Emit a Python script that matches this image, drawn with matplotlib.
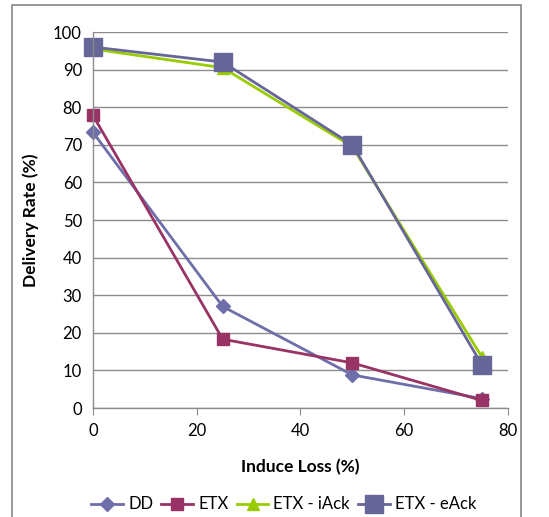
import matplotlib.pyplot as plt
from matplotlib.patches import Rectangle

plt.rcParams['font.family'] = ['Lato', 'DejaVu Sans']

loss = [0, 25, 50, 75]
dd = [73.3, 27.0, 8.8, 2.5]
etx = [77.8, 18.3, 12.0, 2.0]
etx_iack = [95.5, 90.5, 69.5, 13.5]
etx_eack = [96.0, 92.0, 70.0, 11.4]

fig = plt.figure(figsize=(5.49, 5.17), dpi=100)
ax = fig.add_axes([0.1694, 0.2108, 0.7559, 0.7273])

# рамка вокруг диаграммы
fig.patches.append(Rectangle((12 / 549, -0.01), 509 / 549, 1 - 5 / 517 + 0.01,
                             transform=fig.transFigure, fill=False,
                             edgecolor='#888888', linewidth=1.2))

ax.plot(loss, dd, color='#6E6EAA', marker='D', markersize=7, linewidth=2,
        clip_on=False, label='DD')
ax.plot(loss, etx, color='#993366', marker='s', markersize=8, linewidth=2,
        clip_on=False, label='ETX')
ax.plot(loss, etx_iack, color='#99CC00', marker='^', markersize=9, linewidth=2,
        clip_on=False, label='ETX - iAck')
ax.plot(loss, etx_eack, color='#666699', marker='s', markersize=13, linewidth=2,
        clip_on=False, label='ETX - eAck')

ax.set_xlim(0, 80)
ax.set_ylim(0, 100)
ax.set_xticks(range(0, 81, 20))
ax.set_yticks(range(0, 101, 10))
ax.grid(axis='y', color='#8c8c8c', linewidth=1)
ax.set_axisbelow(True)
for s in ['top', 'right']:
    ax.spines[s].set_visible(False)
for s in ['left', 'bottom']:
    ax.spines[s].set_color('#8c8c8c')
    ax.spines[s].set_linewidth(1)
ax.tick_params(axis='x', direction='out', length=5, color='#8c8c8c', labelsize=12, pad=6)
ax.tick_params(axis='y', length=0, labelsize=12, pad=8)

ax.set_xlabel('Induce Loss (%)', fontsize=12.5, fontweight='bold', labelpad=14)
ax.set_ylabel('Delivery Rate (%)', fontsize=12.5, fontweight='bold', labelpad=10)

ax.legend(loc='upper center', bbox_to_anchor=(0.46, -0.195), ncol=4, frameon=False,
          fontsize=12, handlelength=1.9, handletextpad=0.3, columnspacing=0.5)

plt.savefig('out.png')
